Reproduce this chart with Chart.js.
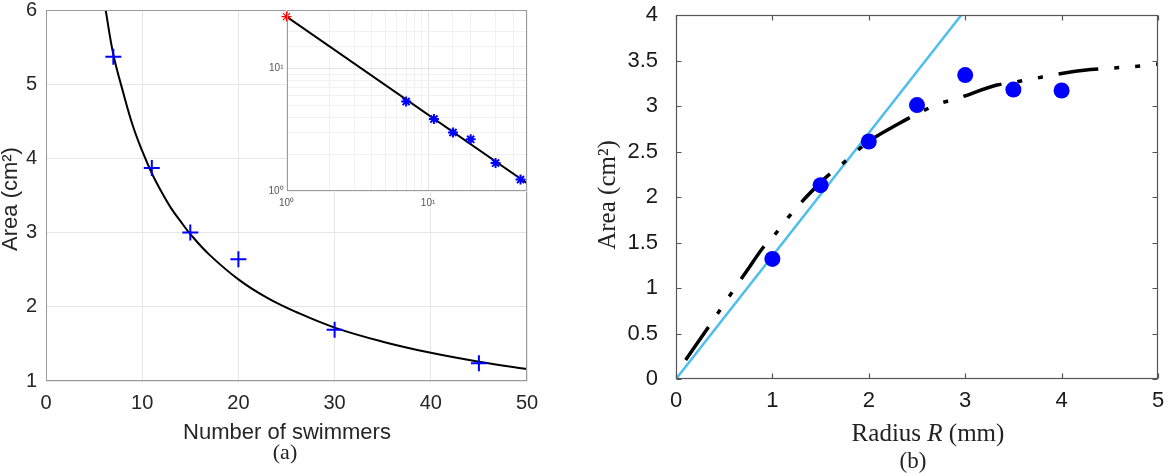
<!DOCTYPE html>
<html><head><meta charset="utf-8">
<script src="https://cdn.jsdelivr.net/npm/chart.js@4.4.1/dist/chart.umd.min.js"></script>
<style>
html,body{margin:0;padding:0;background:#fff;width:1171px;height:476px;overflow:hidden;}
.box{position:absolute;}
canvas{display:block;}
</style></head><body>
<div class="box" style="left:0;top:0;"><canvas id="ca" width="580" height="476"></canvas></div>
<div class="box" style="left:240px;top:0;"><canvas id="ci" width="300" height="215"></canvas></div>
<div class="box" style="left:590px;top:0;"><canvas id="cb" width="581" height="476"></canvas></div>
<script>
// ---------- Panel (a): area vs number of swimmers ----------
const swimmers = [7, 11, 15, 20, 30, 45];
const swimmerArea = [5.37, 3.87, 3.0, 2.64, 1.69, 1.24];
const fitN = [6.2, 7, 8, 9, 10, 11, 12, 13, 14, 15, 17, 20, 23, 26, 30, 35, 40, 45, 50];
const fitArea = [6.0, 5.4, 4.9, 4.45, 4.1, 3.8, 3.55, 3.33, 3.15, 2.98, 2.7, 2.37, 2.12, 1.93, 1.72, 1.53, 1.38, 1.26, 1.16];
const xTicksA = [0, 10, 20, 30, 40, 50];
const yTicksA = [1, 2, 3, 4, 5, 6];

// inset (log-log)
const insetLineN = [1, 50];
const insetLineArea = [26.5, 1.16];
const insetStartN = [1];
const insetStartArea = [26.5];

// ---------- Panel (b): area vs radius ----------
const radius = [1, 1.5, 2, 2.5, 3, 3.5, 4];
const radiusArea = [1.32, 2.13, 2.61, 3.01, 3.34, 3.18, 3.17];
const linearR = [0, 2.96];
const linearArea = [0, 4];
const modelR = [0.1, 0.33, 0.56, 0.73, 0.9, 1.02, 1.16, 1.29, 1.55, 1.72, 2.0, 2.3, 2.55, 2.74, 2.91, 3.33, 3.5, 3.71, 3.9, 4.3, 4.71, 5.0];
const modelArea = [0.21, 0.56, 0.92, 1.18, 1.44, 1.58, 1.77, 1.93, 2.21, 2.36, 2.61, 2.8, 2.94, 3.03, 3.08, 3.23, 3.26, 3.30, 3.34, 3.40, 3.43, 3.46];

const SANS = '"Liberation Sans", Arial, Helvetica, sans-serif';
const SERIF = '"Liberation Serif", "Times New Roman", serif';

function xy(xs, ys) { return xs.map((x, i) => ({x: x, y: ys[i]})); }
function fixY(w) { return function(s){ s.width = w; s.paddingTop = 0; s.paddingBottom = 0; s.paddingLeft = 0; s.paddingRight = 0; }; }
function fixX(h) { return function(s){ s.height = h; s.paddingTop = 0; s.paddingBottom = 0; s.paddingLeft = 0; s.paddingRight = 0; }; }

const frame = {
  id: 'frame',
  beforeDraw(chart, args, o) {
    if (o.fill) {
      const a = chart.chartArea, ctx = chart.ctx;
      ctx.save(); ctx.fillStyle = o.fill;
      ctx.fillRect(a.left, a.top, a.right - a.left, a.bottom - a.top);
      ctx.restore();
    }
  },
  afterDraw(chart, args, o) {
    const ctx = chart.ctx, a = chart.chartArea;
    ctx.save();
    ctx.strokeStyle = o.color || '#888';
    ctx.lineWidth = o.width || 1;
    const L = Math.round(a.left) + 0.5, T = Math.round(a.top) + 0.5;
    const R = Math.round(a.right) - 0.5, B = Math.round(a.bottom) - 0.5;
    ctx.strokeRect(L, T, R - L, B - T);
    if (o.tickLen) {
      const len = o.tickLen;
      ctx.beginPath();
      chart.scales.x.ticks.forEach(t => {
        const p = Math.round(chart.scales.x.getPixelForValue(t.value)) + 0.5;
        ctx.moveTo(p, B); ctx.lineTo(p, B - len);
        ctx.moveTo(p, T); ctx.lineTo(p, T + len);
      });
      chart.scales.y.ticks.forEach(t => {
        const p = Math.round(chart.scales.y.getPixelForValue(t.value)) + 0.5;
        ctx.moveTo(L, p); ctx.lineTo(L + len, p);
        ctx.moveTo(R, p); ctx.lineTo(R - len, p);
      });
      ctx.stroke();
    }
    (o.texts || []).forEach(it => {
      ctx.save();
      ctx.fillStyle = it.color || '#222';
      ctx.translate(it.x, it.y);
      if (it.rotate) ctx.rotate(it.rotate);
      ctx.textBaseline = it.baseline || 'alphabetic';
      const parts = it.parts;
      let total = 0;
      parts.forEach(p => { ctx.font = p.font; total += ctx.measureText(p.text).width; });
      let cx = -total / 2;
      ctx.textAlign = 'left';
      parts.forEach(p => { ctx.font = p.font; ctx.fillText(p.text, cx, 0); cx += ctx.measureText(p.text).width; });
      ctx.restore();
    });
    ctx.restore();
  }
};

// ---------- Chart A ----------
new Chart(document.getElementById('ca'), {
  type: 'scatter',
  data: {
    datasets: [
      { data: xy(swimmers, swimmerArea), pointStyle: 'cross', pointRadius: 8, pointBorderWidth: 2,
        borderColor: '#0000ff', backgroundColor: '#0000ff', showLine: false },
      { data: xy(fitN, fitArea), showLine: true, pointRadius: 0, borderColor: '#000', borderWidth: 2,
        tension: 0.4 }
    ]
  },
  options: {
    responsive: false, animation: false,
    layout: { padding: { left: 0, top: 10, right: 53, bottom: 0 } },
    plugins: { legend: { display: false }, tooltip: { enabled: false },
      frame: { color: '#9a9a9a', width: 1, texts: [
        { x: 11, y: 199, rotate: -Math.PI/2, baseline: 'middle', color: '#262626', parts: [{ text: 'Area (cm²)', font: '22px ' + SANS }] },
        { x: 287, y: 439, color: '#262626', parts: [{ text: 'Number of swimmers', font: '22px ' + SANS }] },
        { x: 285, y: 459, color: '#222', parts: [{ text: '(a)', font: '22px ' + SERIF }] }
      ] } },
    scales: {
      x: { type: 'linear', min: 0, max: 50, afterFit: fixX(95),
        afterBuildTicks: s => { s.ticks = xTicksA.map(v => ({ value: v })); },
        ticks: { padding: 10, color: '#262626', font: { family: SANS, size: 20, lineHeight: 1.2 } },
        grid: { color: '#e6e6e6', drawTicks: false }, border: { display: false } },
      y: { type: 'linear', min: 1, max: 6, afterFit: fixY(46),
        afterBuildTicks: s => { s.ticks = yTicksA.map(v => ({ value: v })); },
        ticks: { padding: 9, color: '#262626', font: { family: SANS, size: 20, lineHeight: 1.2 } },
        grid: { color: '#e6e6e6', drawTicks: false }, border: { display: false } }
    }
  },
  plugins: [frame]
});

// ---------- Inset ----------
new Chart(document.getElementById('ci'), {
  type: 'scatter',
  data: {
    datasets: [
      { data: xy(insetStartN, insetStartArea), pointStyle: 'star', pointRadius: 5, pointBorderWidth: 1.2,
        borderColor: '#ff0000', backgroundColor: '#ff0000', showLine: false, clip: false },
      { data: xy(swimmers, swimmerArea), pointStyle: 'star', pointRadius: 5, pointBorderWidth: 2,
        borderColor: '#0000ff', backgroundColor: '#0000ff', showLine: false },
      { data: xy(insetLineN, insetLineArea), showLine: true, pointRadius: 0, borderColor: '#000', borderWidth: 2 }
    ]
  },
  options: {
    responsive: false, animation: false,
    layout: { padding: { left: 0, top: 10, right: 13, bottom: 0 } },
    plugins: { legend: { display: false }, tooltip: { enabled: false },
      frame: { color: '#9a9a9a', width: 1, fill: '#ffffff' } },
    scales: {
      x: { type: 'logarithmic', min: 1, max: 50, afterFit: fixX(24),
        ticks: { autoSkip: false, maxRotation: 0, padding: 6, color: '#555', font: { family: SANS, size: 10, lineHeight: 1.2 },
          callback: v => v === 1 ? '10⁰' : (v === 10 ? '10¹' : '') },
        grid: { drawTicks: false, color: c => (c.tick && (c.tick.value === 10)) ? '#e4e4e4' : '#f1f1f1' },
        border: { display: false } },
      y: { type: 'logarithmic', min: 1, max: 30, afterFit: fixY(46.5),
        ticks: { autoSkip: false, padding: 3, color: '#555', font: { family: SANS, size: 10, lineHeight: 1.2 },
          callback: v => v === 1 ? '10⁰' : (v === 10 ? '10¹' : '') },
        grid: { drawTicks: false, color: c => (c.tick && (c.tick.value === 10)) ? '#e4e4e4' : '#f1f1f1' },
        border: { display: false } }
    }
  },
  plugins: [frame]
});

// ---------- Chart B ----------
new Chart(document.getElementById('cb'), {
  type: 'scatter',
  data: {
    datasets: [
      { data: xy(radius, radiusArea), pointStyle: 'circle', pointRadius: 8, pointBorderWidth: 0,
        borderColor: '#0000ff', backgroundColor: '#0000ff', showLine: false },
      { data: xy(modelR, modelArea), showLine: true, pointRadius: 0, borderColor: '#000', borderWidth: 3.5,
        borderDash: [40, 16, 5, 16, 5, 16], borderCapStyle: 'butt', cubicInterpolationMode: 'monotone' },
      { data: xy(linearR, linearArea), showLine: true, pointRadius: 0, borderColor: '#4DBEEE', borderWidth: 2.5 }
    ]
  },
  options: {
    responsive: false, animation: false,
    layout: { padding: { left: 0, top: 15, right: 13, bottom: 0 } },
    plugins: { legend: { display: false }, tooltip: { enabled: false },
      frame: { color: '#555', width: 1.2, tickLen: 5, texts: [
        { x: 18, y: 195, rotate: -Math.PI/2, baseline: 'middle', color: '#222', parts: [{ text: 'Area (cm²)', font: '25px ' + SERIF }] },
        { x: 338, y: 441, color: '#222', parts: [
          { text: 'Radius ', font: '25px ' + SERIF },
          { text: 'R', font: 'italic 25px ' + SERIF },
          { text: ' (mm)', font: '25px ' + SERIF } ] },
        { x: 323, y: 468, color: '#222', parts: [{ text: '(b)', font: '23px ' + SERIF }] }
      ] } },
    scales: {
      x: { type: 'linear', min: 0, max: 5, afterFit: fixX(97),
        ticks: { stepSize: 1, padding: 9, color: '#1a1a1a', font: { family: SANS, size: 22, lineHeight: 1.2 },
          callback: v => String(v) },
        grid: { display: false, drawTicks: false }, border: { display: false } },
      y: { type: 'linear', min: 0, max: 4, afterFit: fixY(86),
        ticks: { stepSize: 0.5, padding: 18, color: '#1a1a1a', font: { family: SANS, size: 22, lineHeight: 1.2 },
          callback: v => String(v) },
        grid: { display: false, drawTicks: false }, border: { display: false } }
    }
  },
  plugins: [frame]
});
</script>
</body></html>
